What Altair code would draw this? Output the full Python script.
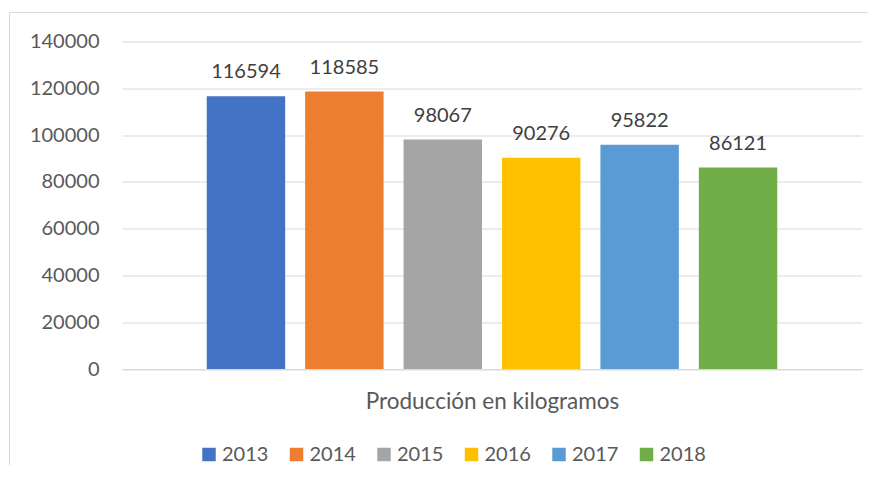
import altair as alt
import pandas as pd

years = ["2013", "2014", "2015", "2016", "2017", "2018"]
values = [116594, 118585, 98067, 90276, 95822, 86121]
colors = ["#4472C4", "#ED7D31", "#A5A5A5", "#FFC000", "#5B9BD5", "#70AD47"]
category = "Producción en kilogramos"
y_ticks = [0, 20000, 40000, 60000, 80000, 100000, 120000, 140000]

df = pd.DataFrame({"year": years, "value": values})

FONT = "Lato"

x = alt.X(
    "year:N",
    sort=years,
    scale=alt.Scale(paddingInner=0.203, paddingOuter=0.861),
    axis=alt.Axis(
        labels=False, ticks=False, domain=True, domainColor="#d9d9d9", domainWidth=1,
        title=category, titleFont=FONT, titleFontSize=22.5, titleFontWeight="normal",
        titleColor="#595959", titleBaseline="alphabetic", titlePadding=39,
    ),
)
y = alt.Y(
    "value:Q",
    scale=alt.Scale(domain=[0, 140000], nice=False),
    axis=alt.Axis(
        values=y_ticks, format="d", title=None, domain=False, ticks=False,
        labelFont=FONT, labelFontSize=20, labelColor="#595959", labelPadding=23,
        gridColor="#d9d9d9", gridWidth=1,
    ),
)
color = alt.Color(
    "year:N",
    scale=alt.Scale(domain=years, range=colors),
    legend=alt.Legend(
        title=None, orient="none", legendX=77, legendY=403, direction="horizontal",
        columns=6, symbolType="square", symbolSize=182, symbolStrokeWidth=0,
        labelFont=FONT, labelFontSize=20, labelColor="#595959", labelOffset=3,
        columnPadding=17.5, padding=0,
    ),
)

base = alt.Chart(df)
bars = base.mark_bar().encode(x=x, y=y, color=color)
labels = base.mark_text(dy=-18, baseline="alphabetic", font=FONT, fontSize=20, color="#404040").encode(
    x=alt.X("year:N", sort=years), y="value:Q", text=alt.Text("value:Q", format="d")
)
frame = alt.Chart(pd.DataFrame({"f": [0]})).mark_rect(filled=False, stroke="#d9d9d9", strokeWidth=1).encode(
    x=alt.value(-112.5), x2=alt.value(760), y=alt.value(-29), y2=alt.value(470)
)

chart = alt.layer(frame, bars, labels).properties(
    width=740, height=327.5,
    autosize=alt.AutoSizeParams(type="none"),
    padding={"left": 114, "top": 33.5, "right": 6, "bottom": 96},
    background="white",
).configure_view(stroke=None)

chart.save("out.html", embed_options={"renderer": "svg", "actions": False})
